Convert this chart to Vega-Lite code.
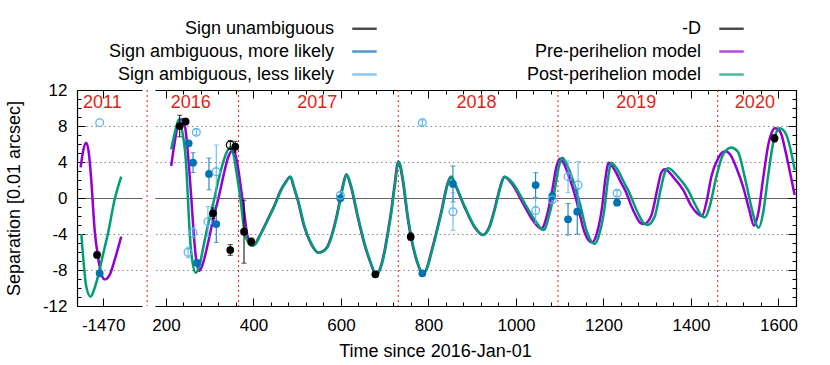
{
  "$schema": "https://vega.github.io/schema/vega-lite/v6.json",
  "padding": {"left": 5, "top": 15, "right": 5, "bottom": 5},
  "spacing": 4,
  "config": {
    "view": {"stroke": null},
    "font": "Liberation Sans",
    "axis": {"labelFont": "Liberation Sans", "labelFontSize": 17, "labelColor": "black", "titleFont": "Liberation Sans", "titleFontSize": 18, "titleFontWeight": "normal", "titleColor": "black", "domainColor": "black", "domainWidth": 1.2, "tickColor": "black", "tickWidth": 1, "grid": false}
  },
  "datasets": {
    "curvesL": [
      {"t": -1521.6, "y": 3.41, "m": "Pre-perihelion model"},
      {"t": -1515.5, "y": 5.33, "m": "Pre-perihelion model"},
      {"t": -1508.7, "y": 6.15, "m": "Pre-perihelion model"},
      {"t": -1503.3, "y": 5.15, "m": "Pre-perihelion model"},
      {"t": -1497.3, "y": 2.0, "m": "Pre-perihelion model"},
      {"t": -1489.5, "y": -3.56, "m": "Pre-perihelion model"},
      {"t": -1482, "y": -6.5, "m": "Pre-perihelion model"},
      {"t": -1474.5, "y": -8.37, "m": "Pre-perihelion model"},
      {"t": -1466.7, "y": -9.04, "m": "Pre-perihelion model"},
      {"t": -1455.3, "y": -8.56, "m": "Pre-perihelion model"},
      {"t": -1443.8, "y": -6.9, "m": "Pre-perihelion model"},
      {"t": -1428.6, "y": -4.3, "m": "Pre-perihelion model"},
      {"t": -1520, "y": -4.0, "m": "Post-perihelion model"},
      {"t": -1514, "y": -7.63, "m": "Post-perihelion model"},
      {"t": -1508.7, "y": -9.85, "m": "Post-perihelion model"},
      {"t": -1498.7, "y": -10.96, "m": "Post-perihelion model"},
      {"t": -1489.5, "y": -10.0, "m": "Post-perihelion model"},
      {"t": -1482, "y": -8.74, "m": "Post-perihelion model"},
      {"t": -1470.6, "y": -6.33, "m": "Post-perihelion model"},
      {"t": -1459, "y": -3.93, "m": "Post-perihelion model"},
      {"t": -1443.8, "y": -0.2, "m": "Post-perihelion model"},
      {"t": -1428.6, "y": 2.37, "m": "Post-perihelion model"}
    ],
    "ptsL": [
      {"t": -1484, "y": -6.33, "e": 0.3, "s": "Sign unambiguous"},
      {"t": -1478, "y": -8.37, "e": 0.3, "s": "Sign ambiguous, more likely"},
      {"t": -1478, "y": 8.37, "e": 0.3, "s": "Sign ambiguous, less likely"}
    ],
    "yearsL": [{"t": -1471.7, "y": 10.52, "label": "2011"}],
    "yearsR": [
      {"t": 256.6, "y": 10.52, "label": "2016"},
      {"t": 546, "y": 10.52, "label": "2017"},
      {"t": 910, "y": 10.52, "label": "2018"},
      {"t": 1275, "y": 10.52, "label": "2019"},
      {"t": 1546, "y": 10.52, "label": "2020"}
    ],
    "sepR": [{"t": 157}, {"t": 366}, {"t": 731}, {"t": 1096}, {"t": 1461}],
    "ptsR": [
      {"t": 231.4, "y": 8.0, "e": 1.2, "s": "Sign unambiguous"},
      {"t": 245, "y": 8.5, "e": 0.35, "s": "Sign unambiguous"},
      {"t": 307.6, "y": -1.7, "e": 0.6, "s": "Sign unambiguous"},
      {"t": 347, "y": -5.78, "e": 0.6, "s": "Sign unambiguous"},
      {"t": 358.5, "y": 5.7, "e": 0.6, "s": "Sign unambiguous"},
      {"t": 378.4, "y": -3.74, "e": 3.5, "s": "Sign unambiguous"},
      {"t": 395, "y": -4.85, "e": 0.4, "s": "Sign unambiguous"},
      {"t": 678.6, "y": -8.48, "e": 0.3, "s": "Sign unambiguous"},
      {"t": 759.4, "y": -4.3, "e": 0.4, "s": "Sign unambiguous"},
      {"t": 1591, "y": 6.63, "e": 0.4, "s": "Sign unambiguous"},
      {"t": 347, "y": 5.9, "e": 0.5, "s": "-D"},
      {"t": 252, "y": 6.07, "e": 0.3, "s": "Sign ambiguous, more likely"},
      {"t": 261.9, "y": 3.93, "e": 1.1, "s": "Sign ambiguous, more likely"},
      {"t": 271, "y": -7.2, "e": 0.3, "s": "Sign ambiguous, more likely"},
      {"t": 298.4, "y": 2.67, "e": 1.76, "s": "Sign ambiguous, more likely"},
      {"t": 315, "y": -2.89, "e": 2.04, "s": "Sign ambiguous, more likely"},
      {"t": 598.6, "y": -0.04, "e": 0.3, "s": "Sign ambiguous, more likely"},
      {"t": 786, "y": -8.37, "e": 0.3, "s": "Sign ambiguous, more likely"},
      {"t": 856, "y": 1.56, "e": 2.0, "s": "Sign ambiguous, more likely"},
      {"t": 1045, "y": 1.44, "e": 1.37, "s": "Sign ambiguous, more likely"},
      {"t": 1083, "y": 0.22, "e": 0.3, "s": "Sign ambiguous, more likely"},
      {"t": 1119, "y": -2.37, "e": 1.75, "s": "Sign ambiguous, more likely"},
      {"t": 1140, "y": -1.52, "e": 2.5, "s": "Sign ambiguous, more likely"},
      {"t": 1231, "y": -0.52, "e": 0.3, "s": "Sign ambiguous, more likely"},
      {"t": 269.4, "y": 7.3, "e": 0.3, "s": "Sign ambiguous, less likely"},
      {"t": 250.4, "y": -6.04, "e": 0.6, "s": "Sign ambiguous, less likely"},
      {"t": 261.9, "y": -3.85, "e": 0.6, "s": "Sign ambiguous, less likely"},
      {"t": 296, "y": -2.63, "e": 1.67, "s": "Sign ambiguous, less likely"},
      {"t": 315, "y": 2.93, "e": 2.96, "s": "Sign ambiguous, less likely"},
      {"t": 598.6, "y": 0.3, "e": 0.3, "s": "Sign ambiguous, less likely"},
      {"t": 786, "y": 8.37, "e": 0.3, "s": "Sign ambiguous, less likely"},
      {"t": 856, "y": -1.52, "e": 2.1, "s": "Sign ambiguous, less likely"},
      {"t": 1045, "y": -1.4, "e": 1.4, "s": "Sign ambiguous, less likely"},
      {"t": 1083, "y": -0.2, "e": 0.3, "s": "Sign ambiguous, less likely"},
      {"t": 1119, "y": 2.37, "e": 1.75, "s": "Sign ambiguous, less likely"},
      {"t": 1142, "y": 1.44, "e": 2.6, "s": "Sign ambiguous, less likely"},
      {"t": 1231, "y": 0.52, "e": 0.3, "s": "Sign ambiguous, less likely"}
    ],
    "curvesR": [
      {"t": 212, "y": 3.56, "m": "Pre-perihelion model"},
      {"t": 220, "y": 6.2, "m": "Pre-perihelion model"},
      {"t": 228, "y": 8.2, "m": "Pre-perihelion model"},
      {"t": 237.5, "y": 8.74, "m": "Pre-perihelion model"},
      {"t": 245, "y": 7.5, "m": "Pre-perihelion model"},
      {"t": 252.7, "y": 3.5, "m": "Pre-perihelion model"},
      {"t": 258, "y": 0, "m": "Pre-perihelion model"},
      {"t": 263.4, "y": -3.9, "m": "Pre-perihelion model"},
      {"t": 269, "y": -6.8, "m": "Pre-perihelion model"},
      {"t": 275.6, "y": -8.1, "m": "Pre-perihelion model"},
      {"t": 283, "y": -7.5, "m": "Pre-perihelion model"},
      {"t": 290, "y": -6.3, "m": "Pre-perihelion model"},
      {"t": 298, "y": -4.6, "m": "Pre-perihelion model"},
      {"t": 306, "y": -2.8, "m": "Pre-perihelion model"},
      {"t": 314, "y": -1.2, "m": "Pre-perihelion model"},
      {"t": 322, "y": 0.4, "m": "Pre-perihelion model"},
      {"t": 332, "y": 2.6, "m": "Pre-perihelion model"},
      {"t": 342, "y": 4.5, "m": "Pre-perihelion model"},
      {"t": 349, "y": 5.2, "m": "Pre-perihelion model"},
      {"t": 353, "y": 5.33, "m": "Pre-perihelion model"},
      {"t": 359, "y": 4.8, "m": "Pre-perihelion model"},
      {"t": 365, "y": 3.3, "m": "Pre-perihelion model"},
      {"t": 370, "y": 1.6, "m": "Pre-perihelion model"},
      {"t": 374.5, "y": 0, "m": "Pre-perihelion model"},
      {"t": 380, "y": -2.0, "m": "Pre-perihelion model"},
      {"t": 385, "y": -3.9, "m": "Pre-perihelion model"},
      {"t": 391, "y": -4.9, "m": "Pre-perihelion model"},
      {"t": 397, "y": -5.3, "m": "Pre-perihelion model"},
      {"t": 404, "y": -5.1, "m": "Pre-perihelion model"},
      {"t": 413, "y": -4.3, "m": "Pre-perihelion model"},
      {"t": 432, "y": -2.44, "m": "Pre-perihelion model"},
      {"t": 448, "y": -0.8, "m": "Pre-perihelion model"},
      {"t": 462.7, "y": 0.9, "m": "Pre-perihelion model"},
      {"t": 475, "y": 1.9, "m": "Pre-perihelion model"},
      {"t": 484, "y": 2.37, "m": "Pre-perihelion model"},
      {"t": 492, "y": 1.2, "m": "Pre-perihelion model"},
      {"t": 501, "y": -0.22, "m": "Pre-perihelion model"},
      {"t": 516, "y": -3.19, "m": "Pre-perihelion model"},
      {"t": 531, "y": -5.04, "m": "Pre-perihelion model"},
      {"t": 548, "y": -6.07, "m": "Pre-perihelion model"},
      {"t": 559, "y": -5.9, "m": "Pre-perihelion model"},
      {"t": 569, "y": -5.4, "m": "Pre-perihelion model"},
      {"t": 579, "y": -4.1, "m": "Pre-perihelion model"},
      {"t": 588, "y": -2.44, "m": "Pre-perihelion model"},
      {"t": 596, "y": -0.6, "m": "Pre-perihelion model"},
      {"t": 603.7, "y": 1.26, "m": "Pre-perihelion model"},
      {"t": 612, "y": 2.6, "m": "Pre-perihelion model"},
      {"t": 622.7, "y": 1.26, "m": "Pre-perihelion model"},
      {"t": 638, "y": -2.07, "m": "Pre-perihelion model"},
      {"t": 653, "y": -5.04, "m": "Pre-perihelion model"},
      {"t": 668, "y": -7.26, "m": "Pre-perihelion model"},
      {"t": 680, "y": -8.56, "m": "Pre-perihelion model"},
      {"t": 691, "y": -7.6, "m": "Pre-perihelion model"},
      {"t": 699, "y": -6.0, "m": "Pre-perihelion model"},
      {"t": 706.6, "y": -3.93, "m": "Pre-perihelion model"},
      {"t": 714, "y": -1.7, "m": "Pre-perihelion model"},
      {"t": 722, "y": 1.26, "m": "Pre-perihelion model"},
      {"t": 731, "y": 4.04, "m": "Pre-perihelion model"},
      {"t": 741, "y": 2.0, "m": "Pre-perihelion model"},
      {"t": 752, "y": -2.07, "m": "Pre-perihelion model"},
      {"t": 761, "y": -4.6, "m": "Pre-perihelion model"},
      {"t": 775, "y": -7.26, "m": "Pre-perihelion model"},
      {"t": 786, "y": -8.37, "m": "Pre-perihelion model"},
      {"t": 796, "y": -7.8, "m": "Pre-perihelion model"},
      {"t": 805.5, "y": -6.15, "m": "Pre-perihelion model"},
      {"t": 817, "y": -4.0, "m": "Pre-perihelion model"},
      {"t": 828.4, "y": -1.7, "m": "Pre-perihelion model"},
      {"t": 843.7, "y": 1.63, "m": "Pre-perihelion model"},
      {"t": 851, "y": 2.37, "m": "Pre-perihelion model"},
      {"t": 862.7, "y": 1.26, "m": "Pre-perihelion model"},
      {"t": 882, "y": -0.96, "m": "Pre-perihelion model"},
      {"t": 904.7, "y": -3.19, "m": "Pre-perihelion model"},
      {"t": 923.7, "y": -4.1, "m": "Pre-perihelion model"},
      {"t": 939, "y": -3.19, "m": "Pre-perihelion model"},
      {"t": 949, "y": -1.6, "m": "Pre-perihelion model"},
      {"t": 958, "y": 0.15, "m": "Pre-perihelion model"},
      {"t": 966, "y": 1.6, "m": "Pre-perihelion model"},
      {"t": 973, "y": 2.37, "m": "Pre-perihelion model"},
      {"t": 990, "y": 1.63, "m": "Pre-perihelion model"},
      {"t": 1016, "y": -0.6, "m": "Pre-perihelion model"},
      {"t": 1038, "y": -2.44, "m": "Pre-perihelion model"},
      {"t": 1058, "y": -3.4, "m": "Pre-perihelion model"},
      {"t": 1072, "y": -1.7, "m": "Pre-perihelion model"},
      {"t": 1083, "y": 0.9, "m": "Pre-perihelion model"},
      {"t": 1092.5, "y": 3.48, "m": "Pre-perihelion model"},
      {"t": 1101, "y": 4.4, "m": "Pre-perihelion model"},
      {"t": 1109, "y": 3.85, "m": "Pre-perihelion model"},
      {"t": 1124, "y": 2.0, "m": "Pre-perihelion model"},
      {"t": 1140, "y": -0.6, "m": "Pre-perihelion model"},
      {"t": 1155, "y": -3.56, "m": "Pre-perihelion model"},
      {"t": 1166, "y": -4.7, "m": "Pre-perihelion model"},
      {"t": 1174, "y": -4.95, "m": "Pre-perihelion model"},
      {"t": 1185, "y": -3.9, "m": "Pre-perihelion model"},
      {"t": 1197, "y": -0.96, "m": "Pre-perihelion model"},
      {"t": 1204, "y": 2.0, "m": "Pre-perihelion model"},
      {"t": 1212, "y": 3.93, "m": "Pre-perihelion model"},
      {"t": 1223, "y": 3.3, "m": "Pre-perihelion model"},
      {"t": 1241, "y": 1.63, "m": "Pre-perihelion model"},
      {"t": 1249, "y": 0.9, "m": "Pre-perihelion model"},
      {"t": 1271, "y": -1.7, "m": "Pre-perihelion model"},
      {"t": 1284, "y": -2.75, "m": "Pre-perihelion model"},
      {"t": 1292, "y": -2.9, "m": "Pre-perihelion model"},
      {"t": 1309, "y": -2.0, "m": "Pre-perihelion model"},
      {"t": 1324, "y": 1.2, "m": "Pre-perihelion model"},
      {"t": 1332, "y": 2.8, "m": "Pre-perihelion model"},
      {"t": 1340, "y": 3.2, "m": "Pre-perihelion model"},
      {"t": 1360, "y": 2.3, "m": "Pre-perihelion model"},
      {"t": 1382, "y": 0.9, "m": "Pre-perihelion model"},
      {"t": 1401, "y": -0.9, "m": "Pre-perihelion model"},
      {"t": 1414, "y": -1.7, "m": "Pre-perihelion model"},
      {"t": 1425, "y": -2.0, "m": "Pre-perihelion model"},
      {"t": 1436, "y": -0.3, "m": "Pre-perihelion model"},
      {"t": 1446.5, "y": 2.37, "m": "Pre-perihelion model"},
      {"t": 1462, "y": 4.4, "m": "Pre-perihelion model"},
      {"t": 1470, "y": 5.0, "m": "Pre-perihelion model"},
      {"t": 1479, "y": 5.2, "m": "Pre-perihelion model"},
      {"t": 1490, "y": 4.8, "m": "Pre-perihelion model"},
      {"t": 1505, "y": 3.2, "m": "Pre-perihelion model"},
      {"t": 1519, "y": 1.26, "m": "Pre-perihelion model"},
      {"t": 1533, "y": -1.3, "m": "Pre-perihelion model"},
      {"t": 1544, "y": -3.07, "m": "Pre-perihelion model"},
      {"t": 1554, "y": -1.6, "m": "Pre-perihelion model"},
      {"t": 1565, "y": 2.2, "m": "Pre-perihelion model"},
      {"t": 1577, "y": 6.0, "m": "Pre-perihelion model"},
      {"t": 1584, "y": 7.2, "m": "Pre-perihelion model"},
      {"t": 1591.6, "y": 7.74, "m": "Pre-perihelion model"},
      {"t": 1600, "y": 7.6, "m": "Pre-perihelion model"},
      {"t": 1607, "y": 7.0, "m": "Pre-perihelion model"},
      {"t": 1615, "y": 5.4, "m": "Pre-perihelion model"},
      {"t": 1622, "y": 3.85, "m": "Pre-perihelion model"},
      {"t": 1637, "y": 0.33, "m": "Pre-perihelion model"},
      {"t": 212, "y": 5.4, "m": "Post-perihelion model"},
      {"t": 222, "y": 7.6, "m": "Post-perihelion model"},
      {"t": 230, "y": 8.74, "m": "Post-perihelion model"},
      {"t": 238, "y": 7.2, "m": "Post-perihelion model"},
      {"t": 246.5, "y": 3.5, "m": "Post-perihelion model"},
      {"t": 250, "y": 0.2, "m": "Post-perihelion model"},
      {"t": 254.3, "y": -3.9, "m": "Post-perihelion model"},
      {"t": 260, "y": -6.9, "m": "Post-perihelion model"},
      {"t": 268, "y": -8.3, "m": "Post-perihelion model"},
      {"t": 276, "y": -7.6, "m": "Post-perihelion model"},
      {"t": 284, "y": -5.8, "m": "Post-perihelion model"},
      {"t": 292, "y": -3.9, "m": "Post-perihelion model"},
      {"t": 301, "y": -2.0, "m": "Post-perihelion model"},
      {"t": 311, "y": 0, "m": "Post-perihelion model"},
      {"t": 320, "y": 2.0, "m": "Post-perihelion model"},
      {"t": 330, "y": 3.85, "m": "Post-perihelion model"},
      {"t": 338, "y": 5.0, "m": "Post-perihelion model"},
      {"t": 347, "y": 5.6, "m": "Post-perihelion model"},
      {"t": 355, "y": 4.7, "m": "Post-perihelion model"},
      {"t": 362, "y": 2.6, "m": "Post-perihelion model"},
      {"t": 370, "y": 0, "m": "Post-perihelion model"},
      {"t": 380, "y": -3.9, "m": "Post-perihelion model"},
      {"t": 388, "y": -4.9, "m": "Post-perihelion model"},
      {"t": 396, "y": -5.3, "m": "Post-perihelion model"},
      {"t": 405, "y": -5.1, "m": "Post-perihelion model"},
      {"t": 414, "y": -4.3, "m": "Post-perihelion model"},
      {"t": 433, "y": -2.44, "m": "Post-perihelion model"},
      {"t": 449, "y": -0.8, "m": "Post-perihelion model"},
      {"t": 463.7, "y": 0.9, "m": "Post-perihelion model"},
      {"t": 476, "y": 1.9, "m": "Post-perihelion model"},
      {"t": 485, "y": 2.37, "m": "Post-perihelion model"},
      {"t": 493, "y": 1.2, "m": "Post-perihelion model"},
      {"t": 502, "y": -0.22, "m": "Post-perihelion model"},
      {"t": 517, "y": -3.19, "m": "Post-perihelion model"},
      {"t": 532, "y": -5.04, "m": "Post-perihelion model"},
      {"t": 549, "y": -6.07, "m": "Post-perihelion model"},
      {"t": 560, "y": -5.9, "m": "Post-perihelion model"},
      {"t": 570, "y": -5.4, "m": "Post-perihelion model"},
      {"t": 580, "y": -4.1, "m": "Post-perihelion model"},
      {"t": 589, "y": -2.44, "m": "Post-perihelion model"},
      {"t": 597, "y": -0.6, "m": "Post-perihelion model"},
      {"t": 604.7, "y": 1.26, "m": "Post-perihelion model"},
      {"t": 613, "y": 2.6, "m": "Post-perihelion model"},
      {"t": 623.7, "y": 1.26, "m": "Post-perihelion model"},
      {"t": 639, "y": -2.07, "m": "Post-perihelion model"},
      {"t": 654, "y": -5.04, "m": "Post-perihelion model"},
      {"t": 669, "y": -7.26, "m": "Post-perihelion model"},
      {"t": 681, "y": -8.56, "m": "Post-perihelion model"},
      {"t": 692, "y": -7.6, "m": "Post-perihelion model"},
      {"t": 700, "y": -6.0, "m": "Post-perihelion model"},
      {"t": 707.6, "y": -3.93, "m": "Post-perihelion model"},
      {"t": 715, "y": -1.7, "m": "Post-perihelion model"},
      {"t": 723, "y": 1.26, "m": "Post-perihelion model"},
      {"t": 732, "y": 4.04, "m": "Post-perihelion model"},
      {"t": 742, "y": 2.0, "m": "Post-perihelion model"},
      {"t": 753, "y": -2.07, "m": "Post-perihelion model"},
      {"t": 762, "y": -4.6, "m": "Post-perihelion model"},
      {"t": 776, "y": -7.26, "m": "Post-perihelion model"},
      {"t": 787, "y": -8.37, "m": "Post-perihelion model"},
      {"t": 797, "y": -7.8, "m": "Post-perihelion model"},
      {"t": 806.5, "y": -6.15, "m": "Post-perihelion model"},
      {"t": 818, "y": -4.0, "m": "Post-perihelion model"},
      {"t": 829.4, "y": -1.7, "m": "Post-perihelion model"},
      {"t": 844.7, "y": 1.63, "m": "Post-perihelion model"},
      {"t": 852, "y": 2.37, "m": "Post-perihelion model"},
      {"t": 863.7, "y": 1.26, "m": "Post-perihelion model"},
      {"t": 883, "y": -0.96, "m": "Post-perihelion model"},
      {"t": 905.7, "y": -3.19, "m": "Post-perihelion model"},
      {"t": 924.7, "y": -4.1, "m": "Post-perihelion model"},
      {"t": 940, "y": -3.19, "m": "Post-perihelion model"},
      {"t": 950, "y": -1.6, "m": "Post-perihelion model"},
      {"t": 959, "y": 0.15, "m": "Post-perihelion model"},
      {"t": 967, "y": 1.6, "m": "Post-perihelion model"},
      {"t": 974, "y": 2.37, "m": "Post-perihelion model"},
      {"t": 993, "y": 1.63, "m": "Post-perihelion model"},
      {"t": 1020, "y": -0.6, "m": "Post-perihelion model"},
      {"t": 1043, "y": -2.44, "m": "Post-perihelion model"},
      {"t": 1063, "y": -3.56, "m": "Post-perihelion model"},
      {"t": 1077, "y": -1.7, "m": "Post-perihelion model"},
      {"t": 1088.5, "y": 0.9, "m": "Post-perihelion model"},
      {"t": 1098, "y": 3.48, "m": "Post-perihelion model"},
      {"t": 1106, "y": 4.48, "m": "Post-perihelion model"},
      {"t": 1115, "y": 3.85, "m": "Post-perihelion model"},
      {"t": 1130, "y": 2.0, "m": "Post-perihelion model"},
      {"t": 1146, "y": -0.6, "m": "Post-perihelion model"},
      {"t": 1161, "y": -3.56, "m": "Post-perihelion model"},
      {"t": 1172, "y": -4.8, "m": "Post-perihelion model"},
      {"t": 1180, "y": -5.1, "m": "Post-perihelion model"},
      {"t": 1191, "y": -3.93, "m": "Post-perihelion model"},
      {"t": 1203, "y": -0.96, "m": "Post-perihelion model"},
      {"t": 1210, "y": 2.0, "m": "Post-perihelion model"},
      {"t": 1218, "y": 3.93, "m": "Post-perihelion model"},
      {"t": 1230, "y": 3.3, "m": "Post-perihelion model"},
      {"t": 1248, "y": 1.63, "m": "Post-perihelion model"},
      {"t": 1256, "y": 0.9, "m": "Post-perihelion model"},
      {"t": 1279, "y": -1.7, "m": "Post-perihelion model"},
      {"t": 1292, "y": -2.8, "m": "Post-perihelion model"},
      {"t": 1300, "y": -3.0, "m": "Post-perihelion model"},
      {"t": 1317, "y": -2.07, "m": "Post-perihelion model"},
      {"t": 1332, "y": 1.26, "m": "Post-perihelion model"},
      {"t": 1340, "y": 2.8, "m": "Post-perihelion model"},
      {"t": 1348, "y": 3.3, "m": "Post-perihelion model"},
      {"t": 1370, "y": 2.37, "m": "Post-perihelion model"},
      {"t": 1393, "y": 0.9, "m": "Post-perihelion model"},
      {"t": 1412, "y": -0.96, "m": "Post-perihelion model"},
      {"t": 1425, "y": -2.0, "m": "Post-perihelion model"},
      {"t": 1432, "y": -2.15, "m": "Post-perihelion model"},
      {"t": 1442.6, "y": -0.96, "m": "Post-perihelion model"},
      {"t": 1458, "y": 2.37, "m": "Post-perihelion model"},
      {"t": 1473, "y": 4.78, "m": "Post-perihelion model"},
      {"t": 1492, "y": 5.6, "m": "Post-perihelion model"},
      {"t": 1507, "y": 5.15, "m": "Post-perihelion model"},
      {"t": 1522.6, "y": 2.37, "m": "Post-perihelion model"},
      {"t": 1537.8, "y": -0.96, "m": "Post-perihelion model"},
      {"t": 1548, "y": -2.8, "m": "Post-perihelion model"},
      {"t": 1555, "y": -3.3, "m": "Post-perihelion model"},
      {"t": 1564.7, "y": -1.7, "m": "Post-perihelion model"},
      {"t": 1576, "y": 2.37, "m": "Post-perihelion model"},
      {"t": 1587.6, "y": 6.07, "m": "Post-perihelion model"},
      {"t": 1595, "y": 7.3, "m": "Post-perihelion model"},
      {"t": 1603, "y": 7.74, "m": "Post-perihelion model"},
      {"t": 1618, "y": 7.0, "m": "Post-perihelion model"},
      {"t": 1629.6, "y": 4.96, "m": "Post-perihelion model"},
      {"t": 1637, "y": 3.1, "m": "Post-perihelion model"}
    ]
  },
  "hconcat": [
    {
      "width": 65,
      "height": 216,
      "layer": [
        {
          "data": {"name": "curvesL"},
          "transform": [{"filter": "datum.m === 'Pre-perihelion model'"}],
          "mark": {"type": "line", "color": "#9400D3", "strokeWidth": 2.5, "interpolate": "monotone"},
          "encoding": {
            "x": {"field": "t", "type": "quantitative", "scale": {"domain": [-1530, -1381], "nice": false, "zero": false},
                  "axis": {"orient": "top", "values": [-1470], "tickSize": -8, "labels": false, "domain": true, "title": null}},
            "y": {"field": "y", "type": "quantitative", "scale": {"domain": [-12, 12], "nice": false},
                  "axis": {"orient": "left", "values": [-12,-11,-10,-9,-8,-7,-6,-5,-4,-3,-2,-1,0,1,2,3,4,5,6,7,8,9,10,11,12], "tickSize": -4, "labels": false, "domain": false, "title": null}}
          }
        },
        {
          "data": {"name": "curvesL"},
          "transform": [{"filter": "datum.m === 'Post-perihelion model'"}],
          "mark": {"type": "line", "color": "#009E73", "strokeWidth": 2.5, "interpolate": "monotone"},
          "encoding": {
            "x": {"field": "t", "type": "quantitative",
                  "axis": {"orient": "bottom", "values": [-1470], "tickSize": -8, "labelPadding": 19, "labelExpr": "'' + datum.value", "domain": true, "title": null}},
            "y": {"field": "y", "type": "quantitative",
                  "axis": {"orient": "left", "values": [-12, -8, -4, 0, 4, 8, 12], "tickSize": -8, "labelPadding": 18, "labelExpr": "'' + datum.value", "domain": true,
                           "title": "Separation [0.01 arcsec]", "titlePadding": 19,
                           "grid": true,
                           "gridColor": {"condition": {"test": "datum.value === 0", "value": "#333"}, "value": "#888"},
                           "gridDash": {"condition": {"test": "datum.value === 0", "value": [1, 0]}, "value": [1.5, 3]},
                           "gridOpacity": {"condition": {"test": "abs(datum.value) === 12", "value": 0}, "value": 1}}}
          }
        },
        {
          "data": {"name": "ptsL"},
          "transform": [{"filter": "datum.s === 'Sign unambiguous'"}],
          "mark": {"type": "errorbar", "ticks": true, "color": "black"},
          "encoding": {
            "x": {"field": "t", "type": "quantitative", "axis": null},
            "y": {"field": "y", "type": "quantitative", "axis": null},
            "yError": {"field": "e"}
          }
        },
        {
          "data": {"name": "ptsL"},
          "transform": [{"filter": "datum.s === 'Sign unambiguous'"}],
          "mark": {"type": "point", "filled": true, "size": 60, "opacity": 1, "color": "black"},
          "encoding": {
            "x": {"field": "t", "type": "quantitative", "axis": null},
            "y": {"field": "y", "type": "quantitative", "axis": null}
          }
        },
        {
          "data": {"name": "ptsL"},
          "transform": [{"filter": "datum.s === 'Sign ambiguous, more likely'"}],
          "mark": {"type": "point", "filled": true, "size": 60, "opacity": 1, "color": "#0072B2"},
          "encoding": {
            "x": {"field": "t", "type": "quantitative", "axis": null},
            "y": {"field": "y", "type": "quantitative", "axis": null}
          }
        },
        {
          "data": {"name": "ptsL"},
          "transform": [{"filter": "datum.s === 'Sign ambiguous, less likely'"}],
          "mark": {"type": "point", "filled": false, "size": 60, "strokeWidth": 1.3, "opacity": 1, "color": "#56B4E9"},
          "encoding": {
            "x": {"field": "t", "type": "quantitative", "axis": null},
            "y": {"field": "y", "type": "quantitative", "axis": null}
          }
        },
        {
          "data": {"name": "yearsL"},
          "mark": {"type": "text", "color": "#E51E10", "fontSize": 18, "font": "Liberation Sans", "baseline": "middle", "align": "center"},
          "encoding": {
            "x": {"field": "t", "type": "quantitative", "axis": null},
            "y": {"field": "y", "type": "quantitative", "axis": null},
            "text": {"field": "label"}
          }
        }
      ],
      "resolve": {"axis": {"x": "independent", "y": "independent"}}
    },
    {
      "width": 641,
      "height": 216,
      "layer": [
        {
          "data": {"name": "sepR"},
          "mark": {"type": "rule", "color": "#E51E10", "strokeDash": [2, 3], "strokeWidth": 1},
          "encoding": {
            "x": {"field": "t", "type": "quantitative", "scale": {"domain": [175, 1640], "nice": false, "zero": false}, "axis": null}
          }
        },
        {
          "data": {"name": "curvesR"},
          "mark": {"type": "line", "strokeWidth": 2.5, "interpolate": "monotone"},
          "encoding": {
            "x": {"field": "t", "type": "quantitative",
                  "axis": {"orient": "bottom", "values": [200, 400, 600, 800, 1000, 1200, 1400, 1600], "tickSize": -8, "labelPadding": 19, "labelExpr": "'' + datum.value", "labelFlush": false, "domain": true,
                           "title": "Time since 2016-Jan-01", "titleX": 280, "titlePadding": 9}},
            "y": {"field": "y", "type": "quantitative", "scale": {"domain": [-12, 12], "nice": false},
                  "axis": {"orient": "right", "values": [-12, -8, -4, 0, 4, 8, 12], "tickSize": -8, "labels": false, "domain": true, "title": null,
                           "grid": true,
                           "gridColor": {"condition": {"test": "datum.value === 0", "value": "#333"}, "value": "#888"},
                           "gridDash": {"condition": {"test": "datum.value === 0", "value": [1, 0]}, "value": [1.5, 3]},
                           "gridOpacity": {"condition": {"test": "abs(datum.value) === 12", "value": 0}, "value": 1}}},
            "color": {"field": "m", "type": "nominal",
                      "scale": {"domain": ["Sign unambiguous", "Sign ambiguous, more likely", "Sign ambiguous, less likely", "-D", "Pre-perihelion model", "Post-perihelion model"],
                                "range": ["black", "#0072B2", "#56B4E9", "black", "#9400D3", "#009E73"]},
                      "legend": {
                        "orient": "none", "legendX": 274, "legendY": -75, "columns": 2, "columnPadding": 144, "rowPadding": 0,
                        "title": null, "labelFont": "Liberation Sans", "labelFontSize": 18, "labelColor": "black",
                        "labelAlign": "right", "labelOffset": -44, "labelLimit": 400,
                        "symbolType": "stroke", "symbolSize": 600, "symbolStrokeWidth": 2.5, "symbolOpacity": 1
                      }}
          }
        },
        {
          "data": {"name": "ptsR"},
          "mark": {"type": "errorbar", "ticks": true},
          "encoding": {
            "x": {"field": "t", "type": "quantitative", "axis": null},
            "y": {"field": "y", "type": "quantitative", "axis": null},
            "yError": {"field": "e"},
            "color": {"field": "s", "type": "nominal"}
          }
        },
        {
          "data": {"name": "ptsR"},
          "transform": [{"filter": "datum.s === 'Sign unambiguous' || datum.s === 'Sign ambiguous, more likely'"}],
          "mark": {"type": "point", "filled": true, "size": 60, "opacity": 1},
          "encoding": {
            "x": {"field": "t", "type": "quantitative",
                  "axis": {"orient": "bottom", "values": [200,240,280,320,360,400,440,480,520,560,600,640,680,720,760,800,840,880,920,960,1000,1040,1080,1120,1160,1200,1240,1280,1320,1360,1400,1440,1480,1520,1560,1600], "tickSize": -4, "labels": false, "domain": false, "title": null}},
            "y": {"field": "y", "type": "quantitative", "axis": null},
            "color": {"field": "s", "type": "nominal"}
          }
        },
        {
          "data": {"name": "ptsR"},
          "transform": [{"filter": "datum.s === 'Sign ambiguous, less likely' || datum.s === '-D'"}],
          "mark": {"type": "point", "filled": false, "size": 60, "strokeWidth": 1.3, "opacity": 1},
          "encoding": {
            "x": {"field": "t", "type": "quantitative",
                  "axis": {"orient": "top", "values": [200,240,280,320,360,400,440,480,520,560,600,640,680,720,760,800,840,880,920,960,1000,1040,1080,1120,1160,1200,1240,1280,1320,1360,1400,1440,1480,1520,1560,1600], "tickSize": -4, "labels": false, "domain": false, "title": null}},
            "y": {"field": "y", "type": "quantitative", "axis": null},
            "color": {"field": "s", "type": "nominal"}
          }
        },
        {
          "data": {"name": "yearsR"},
          "mark": {"type": "text", "color": "#E51E10", "fontSize": 18, "font": "Liberation Sans", "baseline": "middle", "align": "center"},
          "encoding": {
            "x": {"field": "t", "type": "quantitative",
                  "axis": {"orient": "top", "values": [200, 400, 600, 800, 1000, 1200, 1400, 1600], "tickSize": -8, "labels": false, "domain": true, "title": null}},
            "y": {"field": "y", "type": "quantitative",
                  "axis": {"orient": "right", "values": [-12,-11,-10,-9,-8,-7,-6,-5,-4,-3,-2,-1,0,1,2,3,4,5,6,7,8,9,10,11,12], "tickSize": -4, "labels": false, "domain": false, "title": null}},
            "text": {"field": "label"}
          }
        }
      ],
      "resolve": {"axis": {"x": "independent", "y": "independent"}}
    }
  ]
}
